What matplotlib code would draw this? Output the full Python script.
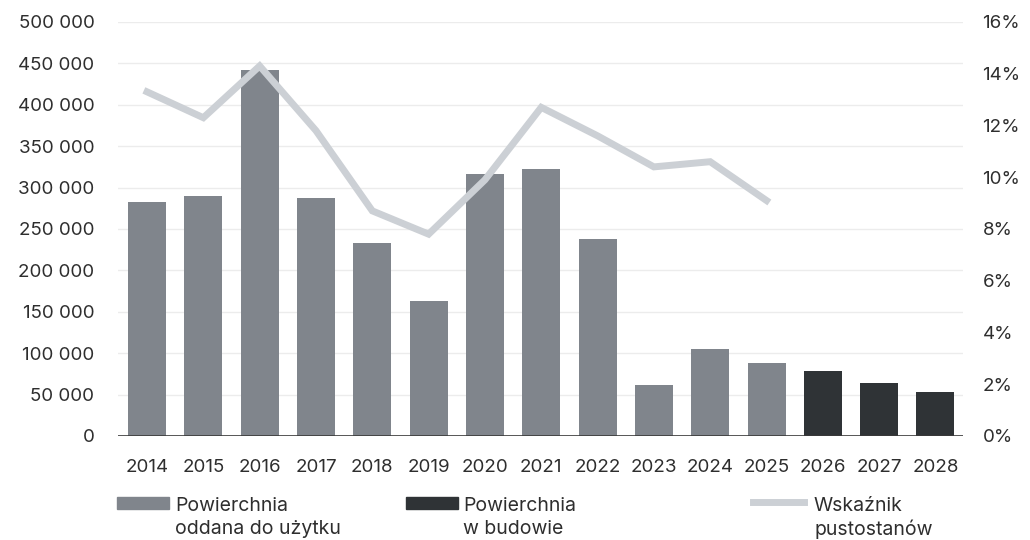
import numpy as np
import matplotlib
matplotlib.use('Agg')
import matplotlib.pyplot as plt
from matplotlib.patches import Rectangle
from matplotlib.lines import Line2D
from matplotlib.ticker import FuncFormatter

plt.rcParams['font.family'] = ['Inter', 'DejaVu Sans']

years = ['2014', '2015', '2016', '2017', '2018', '2019', '2020', '2021',
         '2022', '2023', '2024', '2025', '2026', '2027', '2028']
# powierzchnia oddana do uzytku (2014-2025) i w budowie (2026-2028), m2
delivered = [282000, 290000, 442000, 288000, 233500, 163000, 316500, 323000,
             237500, 61500, 104500, 88500]
under_construction = [78000, 63500, 53500]
# wskaznik pustostanow, %
vacancy = [13.3, 12.3, 14.3, 11.8, 8.7, 7.8, 9.9, 12.7, 11.6, 10.4, 10.6, 9.1]

bar_col = '#80858c'
dark_col = '#2f3336'
line_col = '#ccd0d5'
txt_col = '#2e2e2e'

fig = plt.figure(figsize=(10.3, 5.4), dpi=100)
ax = fig.add_axes([0.1146, 0.1926, 0.8204, 0.7667])
ax2 = ax.twinx()

x = np.arange(len(years))
n1 = len(delivered)
ax.bar(x[:n1], delivered, width=0.675, color=bar_col, zorder=2)
ax.bar(x[n1:], under_construction, width=0.675, color=dark_col, zorder=2)

ax.set_ylim(0, 500000)
ax.set_xlim(-0.515, 14.49)
ax.set_yticks(np.arange(0, 500001, 50000))
ax.yaxis.set_major_formatter(FuncFormatter(lambda v, p: f'{int(v):,}'.replace(',', ' ')))
ax.grid(axis='y', color='#ececec', linewidth=1, zorder=0)
ax.set_axisbelow(True)
ax.set_xticks(x)
ax.set_xticklabels(years)

ax2.plot(x[:len(vacancy)], vacancy, color=line_col, linewidth=5,
         solid_joinstyle='miter', zorder=3)
ax2.set_ylim(0, 16)
ax2.set_yticks(np.arange(0, 17, 2))
ax2.yaxis.set_major_formatter(FuncFormatter(lambda v, p: f'{int(v)}%'))

ax.set_zorder(ax2.get_zorder() - 1)
ax.patch.set_visible(False)
ax2.patch.set_visible(False)

for a in (ax, ax2):
    for s in ('top', 'left', 'right', 'bottom'):
        a.spines[s].set_visible(False)
    a.tick_params(length=0, colors=txt_col, labelsize=13.5)
ax.axhline(0, color='#3a3a3a', linewidth=1.2, zorder=4)
ax.yaxis.set_tick_params(pad=17)
ax.xaxis.set_tick_params(pad=16.5)
ax2.yaxis.set_tick_params(pad=14)

# legend
W, H = 1030, 540
def fx(px):
    return px / W

def fy(py):
    return 1 - py / H

fig.add_artist(Rectangle((fx(117), fy(509)), fx(52), 12 / H, color=bar_col,
                         transform=fig.transFigure))
fig.text(fx(175), fy(506), 'Powierchnia', fontsize=14, color=txt_col, va='center')
fig.text(fx(175), fy(529), 'oddana do użytku', fontsize=14, color=txt_col, va='center')

fig.add_artist(Rectangle((fx(406), fy(509)), fx(52), 12 / H, color=dark_col,
                         transform=fig.transFigure))
fig.text(fx(463), fy(506), 'Powierchnia', fontsize=14, color=txt_col, va='center')
fig.text(fx(463), fy(529), 'w budowie', fontsize=14, color=txt_col, va='center')

fig.add_artist(Line2D([fx(753), fx(804)], [fy(502), fy(502)], color=line_col,
                      linewidth=5, transform=fig.transFigure))
fig.text(fx(814), fy(506), 'Wskaźnik', fontsize=14, color=txt_col, va='center')
fig.text(fx(814), fy(529), 'pustostanów', fontsize=14, color=txt_col, va='center')

fig.savefig('out.png', dpi=100)
